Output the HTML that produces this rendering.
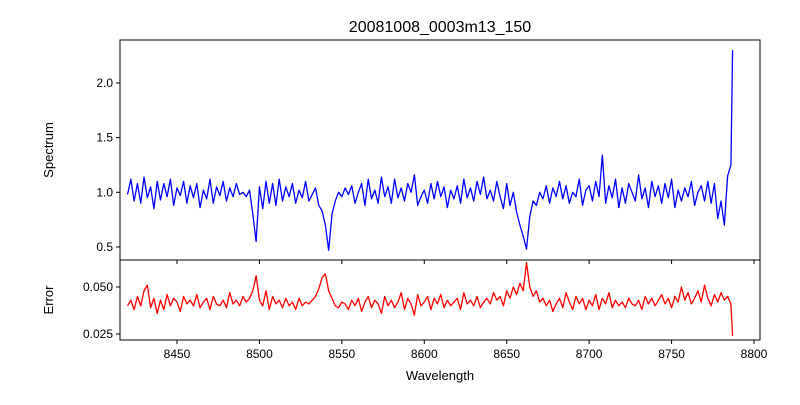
<!DOCTYPE html>
<html><head><meta charset="utf-8"><style>
body{margin:0;background:#fff}
svg text{font-family:"Liberation Sans",sans-serif;fill:#000}
</style></head><body>
<svg id="c" width="800" height="400" xmlns="http://www.w3.org/2000/svg">
<rect width="800" height="400" fill="#fff"/>
<text x="440" y="32" font-size="16" text-anchor="middle">20081008_0003m13_150</text>
<text x="440" y="380" font-size="13" text-anchor="middle">Wavelength</text>
<text transform="translate(53,150) rotate(-90)" font-size="13" text-anchor="middle">Spectrum</text>
<text transform="translate(53,300) rotate(-90)" font-size="13" text-anchor="middle">Error</text>
<g id="g"></g>
</svg>
<script>
const wStart=8420, wStep=2;
const flux=[0.98,1.12,0.92,1.08,0.90,1.14,0.95,1.05,0.85,1.10,
0.93,1.08,0.96,1.12,0.88,1.04,0.97,1.10,0.90,1.06,
0.95,1.08,0.86,1.02,0.94,1.12,0.90,1.05,0.97,1.10,
0.92,1.04,0.96,1.08,0.98,1.00,0.96,1.02,0.80,0.55,
1.05,0.85,1.10,0.90,1.08,0.88,1.12,0.92,1.05,0.96,
1.08,0.90,1.02,0.95,1.10,0.92,0.98,1.04,0.88,0.83,
0.70,0.47,0.80,0.92,1.00,0.96,1.04,0.98,1.06,0.90,
1.00,1.08,0.88,1.12,0.94,1.02,0.90,1.14,0.96,1.05,
0.90,1.12,0.95,1.04,0.92,1.08,1.00,1.16,0.88,0.96,
1.02,0.90,1.08,0.94,1.10,0.96,1.05,0.86,1.02,0.94,
1.06,0.90,1.12,0.95,1.04,0.92,1.10,0.98,1.14,0.94,
1.02,0.92,1.10,0.96,0.85,1.08,0.88,1.00,0.82,0.70,
0.60,0.48,0.78,0.92,0.88,1.00,0.94,1.06,0.90,1.04,
0.96,1.10,0.94,1.06,0.90,1.00,0.96,1.12,0.88,1.02,
1.06,0.92,1.10,0.96,1.34,0.90,1.06,0.95,1.12,0.86,
1.04,0.90,1.08,1.00,0.92,1.16,0.94,1.04,0.86,1.10,
0.96,1.06,0.90,1.08,0.95,1.12,0.86,1.02,0.92,1.04,
0.96,1.10,0.88,1.00,1.06,0.92,1.10,0.90,1.08,0.76,
0.92,0.70,1.15,1.25];
const err=[0.040,0.043,0.038,0.045,0.040,0.048,0.051,0.039,0.044,0.036,
0.043,0.038,0.046,0.040,0.044,0.042,0.037,0.045,0.041,0.043,
0.040,0.046,0.039,0.042,0.044,0.038,0.045,0.041,0.040,0.043,
0.039,0.047,0.041,0.043,0.040,0.045,0.042,0.044,0.048,0.056,
0.043,0.040,0.048,0.038,0.045,0.041,0.043,0.039,0.044,0.040,
0.042,0.038,0.044,0.040,0.042,0.041,0.043,0.045,0.049,0.055,
0.057,0.048,0.044,0.040,0.039,0.042,0.041,0.038,0.043,0.040,
0.044,0.037,0.042,0.045,0.039,0.043,0.041,0.036,0.045,0.040,
0.043,0.039,0.042,0.047,0.038,0.044,0.041,0.035,0.046,0.040,
0.042,0.045,0.038,0.044,0.041,0.046,0.039,0.043,0.040,0.042,
0.044,0.038,0.047,0.041,0.043,0.040,0.045,0.039,0.042,0.044,
0.041,0.047,0.043,0.045,0.040,0.048,0.044,0.050,0.046,0.052,
0.048,0.063,0.050,0.045,0.048,0.042,0.044,0.040,0.043,0.037,
0.041,0.044,0.039,0.047,0.042,0.038,0.045,0.041,0.044,0.038,
0.043,0.040,0.046,0.038,0.044,0.041,0.047,0.039,0.043,0.040,
0.042,0.039,0.044,0.041,0.040,0.043,0.038,0.045,0.041,0.044,
0.040,0.043,0.046,0.041,0.044,0.039,0.045,0.042,0.050,0.043,
0.047,0.041,0.044,0.048,0.042,0.051,0.044,0.040,0.046,0.042,
0.047,0.043,0.045,0.041];
const finalW=8787, finalFlux=2.30, finalErr=0.024;
const xTicks=[8450,8500,8550,8600,8650,8700,8750,8800];
const yTicksTop=[0.5,1.0,1.5,2.0];
const yTicksBot=[0.025,0.050];

const NS="http://www.w3.org/2000/svg";
const g=document.getElementById('g');
const L=120,R=760,T1=40,B1=260,T2=260,B2=340;
const xs=w=>177+(w-8450)*(577/350);
const y1=v=>192.3-(v-1.0)*109.33;
const y2=v=>287-(v-0.05)*1880;
function el(tag,attrs){const e=document.createElementNS(NS,tag);for(const k in attrs)e.setAttribute(k,attrs[k]);g.appendChild(e);return e;}
function path(vals,fy,fin,finV,color,name){
  let d='';vals.forEach((v,i)=>{d+=(i?'L':'M')+xs(wStart+i*wStep).toFixed(2)+','+fy(v).toFixed(2);});
  d+='L'+xs(fin).toFixed(2)+','+fy(finV).toFixed(2);
  const p=el('path',{d:d,fill:'none',stroke:color,'stroke-width':1.3,'stroke-linejoin':'round'});
  
  
}
path(flux,y1,finalW,finalFlux,'#0000ff','spectrum-line');
path(err,y2,finalW,finalErr,'#ff0000','error-line');
const f1=el('rect',{x:L,y:T1,width:R-L,height:B1-T1,fill:'none',stroke:'#000','stroke-width':1});


const f2=el('rect',{x:L,y:T2,width:R-L,height:B2-T2,fill:'none',stroke:'#000','stroke-width':1});


xTicks.forEach(t=>{const x=xs(t);
  el('line',{x1:x,x2:x,y1:B2,y2:B2+4,stroke:'#000'});
  el('line',{x1:x,x2:x,y1:B1,y2:B1+4,stroke:'#000'});
  const tx=el('text',{x:x,y:B2+18,'font-size':12,'text-anchor':'middle'});tx.textContent=t;
  
  
});
yTicksTop.forEach(t=>{const y=y1(t);
  el('line',{x1:L-4,x2:L,y1:y,y2:y,stroke:'#000'});
  const tx=el('text',{x:L-7,y:y+4,'font-size':12,'text-anchor':'end'});tx.textContent=t.toFixed(1);
  
  
});
yTicksBot.forEach(t=>{const y=y2(t);
  el('line',{x1:L-4,x2:L,y1:y,y2:y,stroke:'#000'});
  const tx=el('text',{x:L-7,y:y+4,'font-size':12,'text-anchor':'end'});tx.textContent=t.toFixed(3);
  
  
});
</script>
</body></html>
